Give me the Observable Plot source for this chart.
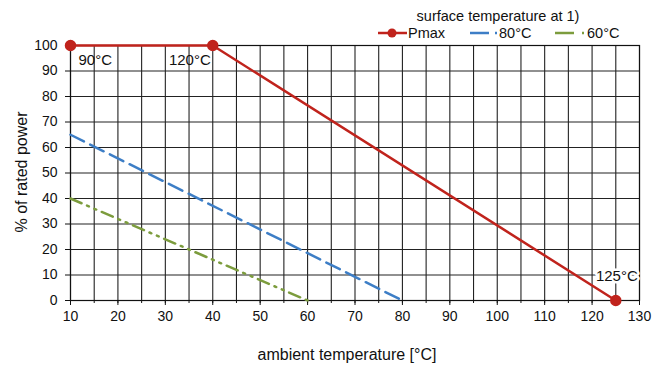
<!DOCTYPE html>
<html>
<head>
<meta charset="utf-8">
<script src="https://cdn.jsdelivr.net/npm/d3@7"></script>
<script src="https://cdn.jsdelivr.net/npm/@observablehq/plot@0.6"></script>
<style>
  body { margin: 0; background: #fff; }
  #chart { position: relative; width: 664px; height: 368px; }
  svg { font-family: "Liberation Sans", Arial, sans-serif; }
</style>
</head>
<body>
<div id="chart"></div>
<script>
// Data
const pmaxX = [10, 40, 125];
const pmaxY = [100, 100, 0];
const s80X = [10, 80];
const s80Y = [65, 0];
const s60X = [10, 60];
const s60Y = [40, 0];
const xTicks = [10, 20, 30, 40, 50, 60, 70, 80, 90, 100, 110, 120, 130];
const xGrid = d3.range(10, 131, 5);
const yTicks = [0, 10, 20, 30, 40, 50, 60, 70, 80, 90, 100];
const labelText = ["90°C", "120°C", "125°C"];
const labelX = [10, 40, 125];
const labelY = [100, 100, 0];

const pmax = pmaxX.map((x, i) => ({x, y: pmaxY[i]}));
const s80 = s80X.map((x, i) => ({x, y: s80Y[i]}));
const s60 = s60X.map((x, i) => ({x, y: s60Y[i]}));
const labels = labelText.map((t, i) => ({t, x: labelX[i], y: labelY[i]}));

const RED = "#c0231c", BLUE = "#3d7ec6", GREEN = "#7c9c3d";

const plot = Plot.plot({
  width: 664,
  height: 368,
  marginLeft: 70,
  marginRight: 25,
  marginTop: 45,
  marginBottom: 68,
  style: {fontFamily: "Liberation Sans, Arial, sans-serif", fontSize: "14px", color: "#111"},
  x: {type: "linear", domain: [10, 130], label: null},
  y: {type: "linear", domain: [0, 100], label: null},
  marks: [
    Plot.ruleX(xGrid, {stroke: "#222", strokeWidth: 1.1, strokeOpacity: 1}),
    Plot.ruleY(yTicks, {stroke: "#222", strokeWidth: 1.1, strokeOpacity: 1}),
    Plot.frame({stroke: "#111", strokeWidth: 1.2}),
    Plot.axisX({ticks: xGrid, tickFormat: () => "", tickSize: 3, stroke: "#111"}),
    Plot.axisX({ticks: xTicks, tickSize: 5, tickPadding: 6, fontSize: 14, stroke: "#111"}),
    Plot.axisY({ticks: yTicks, tickSize: 5, tickPadding: 8, fontSize: 14, stroke: "#111"}),
    Plot.line(s60, {x: "x", y: "y", stroke: GREEN, strokeWidth: 2.5, strokeDasharray: "12,6,2,6,2,6"}),
    Plot.line(s80, {x: "x", y: "y", stroke: BLUE, strokeWidth: 2.5, strokeDasharray: "15,7"}),
    Plot.line(pmax, {x: "x", y: "y", stroke: RED, strokeWidth: 2.5}),
    Plot.dot(pmax, {x: "x", y: "y", r: 5, fill: RED, stroke: RED}),
    Plot.text(labels.slice(0, 1), {x: "x", y: "y", text: "t", textAnchor: "start", dx: 8, dy: 15, fontSize: 15, fill: "#111"}),
    Plot.text(labels.slice(1, 2), {x: "x", y: "y", text: "t", textAnchor: "end", dx: -2, dy: 15, fontSize: 15, fill: "#111"}),
    Plot.text(labels.slice(2, 3), {x: "x", y: "y", text: "t", textAnchor: "end", dx: 22, dy: -24, fontSize: 15, fill: "#111", stroke: "white", strokeWidth: 5, paintOrder: "stroke"})
  ]
});

const svg = d3.select(plot);
// axis titles
svg.append("text")
  .attr("x", 347).attr("y", 360)
  .attr("text-anchor", "middle")
  .attr("font-size", 16).attr("fill", "#111")
  .text("ambient temperature [°C]");
svg.append("text")
  .attr("transform", "translate(27,172) rotate(-90)")
  .attr("text-anchor", "middle")
  .attr("font-size", 16).attr("fill", "#111")
  .text("% of rated power");

// legend
const lg = svg.append("g").attr("font-size", 14.5).attr("fill", "#111").attr("text-anchor", "start");
lg.append("text").attr("x", 498).attr("y", 21).attr("text-anchor", "middle").text("surface temperature at 1)");
lg.append("line").attr("x1", 378).attr("x2", 407).attr("y1", 33).attr("y2", 33).attr("stroke", RED).attr("stroke-width", 2.5);
lg.append("circle").attr("cx", 392).attr("cy", 33).attr("r", 4.5).attr("fill", RED);
lg.append("text").attr("x", 408).attr("y", 38).text("Pmax");
lg.append("line").attr("x1", 470).attr("x2", 489).attr("y1", 33).attr("y2", 33).attr("stroke", BLUE).attr("stroke-width", 2.5);
lg.append("line").attr("x1", 495).attr("x2", 497).attr("y1", 33).attr("y2", 33).attr("stroke", BLUE).attr("stroke-width", 2.5);
lg.append("text").attr("x", 499).attr("y", 38).text("80°C");
lg.append("line").attr("x1", 555).attr("x2", 574).attr("y1", 33).attr("y2", 33).attr("stroke", GREEN).attr("stroke-width", 2.5);
lg.append("line").attr("x1", 582).attr("x2", 584).attr("y1", 33).attr("y2", 33).attr("stroke", GREEN).attr("stroke-width", 2.5);
lg.append("text").attr("x", 587).attr("y", 38).text("60°C");

document.getElementById("chart").appendChild(plot);
</script>
</body>
</html>
